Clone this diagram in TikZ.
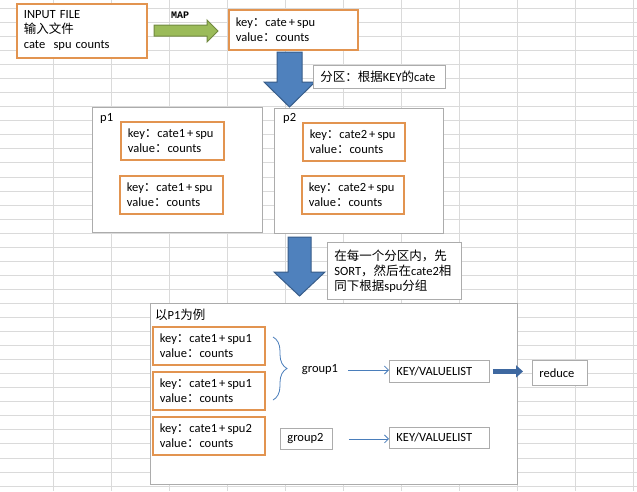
\documentclass[tikz,border=0pt]{standalone}
\usepackage{fontspec}
\setmainfont{Carlito}
\newfontfamily\cjk{Noto Sans CJK SC}
\newfontfamily\mapfont{Liberation Mono}
\usetikzlibrary{arrows.meta}
\usetikzlibrary{decorations.pathreplacing}
\usetikzlibrary{positioning}

\definecolor{boxorange}{RGB}{226,148,80}
\definecolor{boxgray}{RGB}{172,172,172}
\definecolor{gridgray}{RGB}{218,218,218}
\definecolor{mapgreen}{RGB}{155,187,89}
\definecolor{mapgreenln}{RGB}{113,137,63}
\definecolor{arrowblue}{RGB}{79,129,189}
\definecolor{arrowblueln}{RGB}{56,93,138}
\definecolor{lineblue}{RGB}{74,126,187}
\definecolor{thickblue}{RGB}{62,104,160}

\begin{document}
\begin{tikzpicture}[x=1pt, y=-1pt,
    every node/.style={font=\fontsize{12.5}{15}\selectfont},
    gridline/.style={draw=gridgray, line width=0.8},
    kvbox/.style={draw=boxorange, line width=1.8, fill=white, anchor=north west, align=left,
      inner xsep=7, inner ysep=0, minimum height=38, text width=#1},
    graybox/.style={draw=boxgray, line width=0.8, fill=white, anchor=north west, align=left,
      inner xsep=7, inner ysep=0, text width=#1},
    partbox/.style={draw=boxgray, line width=0.8, fill=white, anchor=north west, inner sep=0},
    thinflow/.style={draw=lineblue, line width=0.8, -{Straight Barb[length=4pt,width=8pt]}},
    blockblue/.style={fill=arrowblue, draw=arrowblueln, line width=1}]
  \useasboundingbox (0,0) rectangle (637,491);
  \fill[white] (0,0) rectangle (637,491);
  \foreach \gx in {53,111,...,633} \draw[gridline] (\gx,0) -- (\gx,491);
  \foreach \k in {0,...,34} \draw[gridline] (0,{8.3+14.05*\k}) -- (637,{8.3+14.05*\k});

  \node[kvbox=116, minimum height=54] (input) at (16,3) {INPUT FILE\\{\cjk 输入文件}\\cate~~spu counts};
  \filldraw[fill=mapgreen, draw=mapgreenln, line width=1]
    (154,25) -- (207,25) -- (207,20) -- (218,31) -- (207,42) -- (207,36) -- (154,36) -- cycle;
  \node[font=\mapfont\bfseries\fontsize{10}{10}\selectfont] (maplbl) at (180,15) {MAP};
  \node[kvbox=115, minimum height=40] (kv0) at (228,9) {key{\cjk ：}cate\,+\,spu\\value{\cjk ：}counts};

  \filldraw[blockblue]
    (277,52) -- (302,52) -- (302,82) -- (315,82) -- (289.5,107) -- (264,82) -- (277,82) -- cycle;
  \node[graybox=118, minimum height=23] (part) at (313,65) {{\cjk 分区：根据}KEY{\cjk 的}cate};

  \node[partbox, minimum width=170, minimum height=125] (p1) at (92,107) {};
  \node[partbox, minimum width=169, minimum height=125] (p2) at (274,108) {};
  \node[anchor=west, inner sep=0] (p1name) at (100,118) {p1};
  \node[anchor=west, inner sep=0] (p2name) at (283,118) {p2};
  \node[kvbox=89] (p1a) at (120,121) {key{\cjk ：}cate1\,+\,spu\\value{\cjk ：}counts};
  \node[kvbox=89] (p1b) at (119,175) {key{\cjk ：}cate1\,+\,spu\\value{\cjk ：}counts};
  \node[kvbox=88] (p2a) at (302,122) {key{\cjk ：}cate2\,+\,spu\\value{\cjk ：}counts};
  \node[kvbox=88] (p2b) at (301,175) {key{\cjk ：}cate2\,+\,spu\\value{\cjk ：}counts};

  \filldraw[blockblue]
    (288,237) -- (311,237) -- (311,272) -- (325,272) -- (299.5,296) -- (274,272) -- (288,272) -- cycle;
  \node[graybox=120, minimum height=57] (sortnote) at (327,242)
    {{\cjk 在每一个分区内，先}\\SORT{\cjk ，然后在}cate2{\cjk 相}\\{\cjk 同下根据}spu{\cjk 分组}};

  \node[partbox, minimum width=367, minimum height=181] (p1ex) at (150,303) {};
  \node[anchor=west, inner sep=0] (p1exname) at (155,315) {{\cjk 以}P1{\cjk 为例}};
  \node[kvbox=98] (rec1) at (152,326) {key{\cjk ：}cate1\,+\,spu1\\value{\cjk ：}counts};
  \node[kvbox=98] (rec2) at (152,371) {key{\cjk ：}cate1\,+\,spu1\\value{\cjk ：}counts};
  \node[kvbox=98] (rec3) at (152,416) {key{\cjk ：}cate1\,+\,spu2\\value{\cjk ：}counts};

  \draw[draw=lineblue, line width=0.8, decorate, decoration={brace, amplitude=14pt}]
    (273,337) -- (273,400);
  \node[inner xsep=10] (grp1) at (320,370) {group1};
  \node[graybox=38, minimum height=21] (grp2) at (280,428) {group2};
  \node[graybox=86, minimum height=22] (kvl1) at (389,360) {KEY/VALUELIST};
  \node[graybox=86, minimum height=21] (kvl2) at (389,427) {KEY/VALUELIST};
  \node[graybox=41, minimum height=25] (red) at (532,360) {reduce};

  \draw[thinflow] (grp1.east) -- (grp1.east -| kvl1.west);
  \draw[thinflow, shorten <=16pt] (grp2.east) -- (grp2.east -| kvl2.west);
  \draw[draw=thickblue, line width=5, -{Triangle[length=7pt,width=12pt]}, shorten <=3pt, shorten >=9pt]
    (kvl1.east) -- (kvl1.east -| red.west);
\end{tikzpicture}
\end{document}
